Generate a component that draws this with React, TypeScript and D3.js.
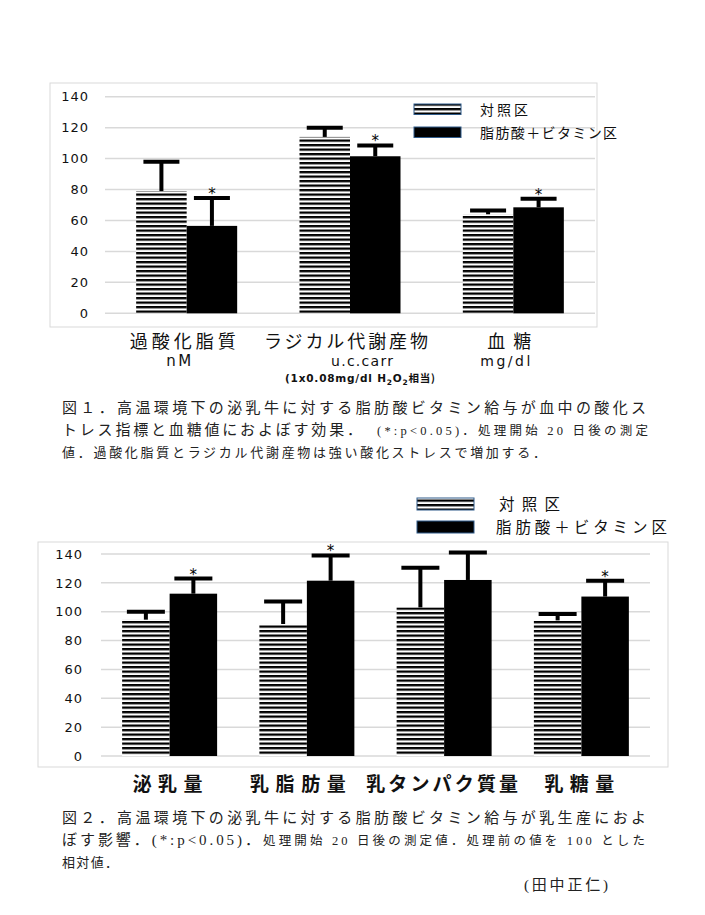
import React from 'react';
import * as d3 from 'd3';

// ---------- data ----------
const seriesNames = ['対照区', '脂肪酸＋ビタミン区'];
const yTicks = [0, 20, 40, 60, 80, 100, 120, 140];

const fig1Categories = ['過酸化脂質', 'ラジカル代謝産物', '血糖'];
const fig1Units = ['nM', 'u.c.carr', 'mg/dl'];
const fig1Control = [79, 114, 64];
const fig1ControlHigh = [98, 120, 66.5];
const fig1Treat = [56.5, 101.5, 68.5];
const fig1TreatHigh = [74.5, 108.5, 74];
const fig1Sig = [true, true, true];

const fig2Categories = ['泌乳量', '乳脂肪量', '乳タンパク質量', '乳糖量'];
const fig2Control = [94.5, 91.5, 103, 94];
const fig2ControlHigh = [100, 107, 130.5, 98.5];
const fig2Treat = [112.5, 121.5, 122, 110.5];
const fig2TreatHigh = [123, 139, 141, 121.5];
const fig2Sig = [true, true, false, true];

const caption1 = [
  '図１．高温環境下の泌乳牛に対する脂肪酸ビタミン給与が血中の酸化ス',
  'トレス指標と血糖値におよぼす効果．',
  '(*:p<0.05)．処理開始 20 日後の測定',
  '値．過酸化脂質とラジカル代謝産物は強い酸化ストレスで増加する．',
];
const caption2 = [
  '図２．高温環境下の泌乳牛に対する脂肪酸ビタミン給与が乳生産におよ',
  'ぼす影響．(*:p<0.05)．',
  '処理開始 20 日後の測定値．処理前の値を 100 とした',
  '相対値．',
];
const author = '(田中正仁)';

const SANS = "'Noto Sans CJK JP', 'DejaVu Sans', sans-serif";
const TICKF = "'DejaVu Sans', Verdana, sans-serif";
const SERIF = "'Liberation Serif', 'Noto Sans CJK JP', serif";

type Cfg = {
  fx: number; fy: number; fw: number; fh: number;
  x0: number; x1: number; yb: number; yt: number;
  outer: number; tickX: number; capW: number;
};

function Panel(props: {
  cfg: Cfg; cats: string[]; ctrl: number[]; ctrlHi: number[];
  trt: number[]; trtHi: number[]; sig: boolean[];
}) {
  const { cfg, cats, ctrl, ctrlHi, trt, trtHi, sig } = props;
  const x = d3.scaleBand<string>().domain(cats).range([cfg.x0, cfg.x1]).padding(0);
  const xs = d3
    .scaleBand<string>()
    .domain(seriesNames)
    .range([0, x.bandwidth()])
    .paddingInner(0)
    .paddingOuter(cfg.outer);
  const y = d3.scaleLinear().domain([0, 140]).range([cfg.yb, cfg.yt]);
  const bw = xs.bandwidth();
  const series = [
    { name: seriesNames[0], vals: ctrl, hi: ctrlHi, fill: 'url(#stripes)', sig: cats.map(() => false) },
    { name: seriesNames[1], vals: trt, hi: trtHi, fill: '#000', sig },
  ];
  return (
    <g>
      <rect x={cfg.fx} y={cfg.fy} width={cfg.fw} height={cfg.fh} fill="#fff" stroke="#d9d9d9" strokeWidth={1} />
      {yTicks.map((t) => (
        <g key={t}>
          <line x1={cfg.x0} x2={cfg.x1} y1={y(t)} y2={y(t)} stroke="#d9d9d9" strokeWidth={1.5} />
          <text
            x={cfg.tickX + 1}
            y={y(t)}
            dy="0.36em"
            textAnchor="end"
            fontFamily={TICKF}
            fontSize={13}
            letterSpacing={1}
            fill="#111"
          >
            {t}
          </text>
        </g>
      ))}
      {series.map((s) =>
        cats.map((c, i) => {
          const bx = (x(c) as number) + (xs(s.name) as number);
          const cx = bx + bw / 2;
          return (
            <g key={s.name + c}>
              <rect x={bx} y={y(s.vals[i])} width={bw} height={y(0) - y(s.vals[i])} fill={s.fill} />
              <line x1={cx} x2={cx} y1={y(s.vals[i])} y2={y(s.hi[i])} stroke="#000" strokeWidth={4} />
              <line
                x1={cx - cfg.capW / 2}
                x2={cx + cfg.capW / 2}
                y1={y(s.hi[i])}
                y2={y(s.hi[i])}
                stroke="#000"
                strokeWidth={4}
              />
              {s.sig[i] && (
                <text x={cx} y={y(s.hi[i]) + 1} textAnchor="middle" fontFamily={TICKF} fontSize={15} fill="#000">
                  *
                </text>
              )}
            </g>
          );
        })
      )}
    </g>
  );
}

function Legend(props: { x: number; y1: number; y2: number; sw: number; sh: number; tx: number[]; tl: number[]; fs: number }) {
  const { x, y1, y2, sw, sh, tx, tl, fs } = props;
  const ys = [y1, y2];
  const fills = ['url(#stripes)', '#000'];
  return (
    <g>
      {seriesNames.map((n, i) => (
        <g key={n}>
          <rect x={x} y={ys[i]} width={sw} height={sh} fill={fills[i]} stroke="#2f5b8a" strokeWidth={1} />
          <text
            x={tx[i]}
            y={ys[i] + sh / 2}
            dy="0.38em"
            fontFamily={SANS}
            fontSize={fs}
            textLength={tl[i]}
            lengthAdjust="spacing"
            fill="#111"
          >
            {n}
          </text>
        </g>
      ))}
    </g>
  );
}

export default function App() {
  const cfg1: Cfg = { fx: 50, fy: 83, fw: 547, fh: 244, x0: 105, x1: 595, yb: 313.3, yt: 96.7, outer: 0.617, tickX: 88, capW: 36 };
  const cfg2: Cfg = { fx: 38, fy: 542, fw: 630, fh: 225, x0: 101, x1: 650, yb: 756, yt: 554, outer: 0.445, tickX: 82, capW: 38 };

  const x1 = d3.scaleBand<string>().domain(fig1Categories).range([cfg1.x0, cfg1.x1]).padding(0);
  const x2 = d3.scaleBand<string>().domain(fig2Categories).range([cfg2.x0, cfg2.x1]).padding(0);
  const cat1Len = [106, 164, 44];
  const unit1Len = [25, 62, 50];
  const unit1Size = [15, 14, 14];
  const cat2Len = [70, 96, 152, 70];

  return (
    <div style={{ position: 'absolute', left: 0, top: 0 }}>
      <svg width={705} height={915} style={{ display: 'block', background: '#fff' }}>
        <defs>
          <pattern id="stripes" patternUnits="userSpaceOnUse" width={8} height={4.5}>
            <rect width={8} height={4.5} fill="#fff" />
            <rect width={8} height={2.3} fill="#000" />
          </pattern>
        </defs>
        <rect width={705} height={915} fill="#fff" />

        {/* Figure 1 */}
        <Panel cfg={cfg1} cats={fig1Categories} ctrl={fig1Control} ctrlHi={fig1ControlHigh} trt={fig1Treat} trtHi={fig1TreatHigh} sig={fig1Sig} />
        <Legend x={414} y1={104} y2={127} sw={47} sh={10.5} tx={[480, 480]} tl={[48, 137]} fs={14} />
        {fig1Categories.map((c, i) => {
          const cx = (x1(c) as number) + x1.bandwidth() / 2;
          return (
            <g key={c}>
              <text x={cx - cat1Len[i] / 2 - 4} y={348} fontFamily={SANS} fontSize={18} textLength={cat1Len[i]} lengthAdjust="spacing" fill="#111">
                {c}
              </text>
              <text x={cx - unit1Len[i] / 2 - 8 + (i === 1 ? 20 : 0)} y={366} fontFamily={TICKF} fontSize={unit1Size[i]} textLength={unit1Len[i]} lengthAdjust="spacing" fill="#111">
                {fig1Units[i]}
              </text>
            </g>
          );
        })}
        <text x={285} y={382} fontFamily={TICKF} fontSize={10.5} fontWeight="bold" textLength={150} lengthAdjust="spacing" fill="#111">
          (1x0.08mg/dl H
          <tspan fontSize={7.5} dy={2.5}>2</tspan>
          <tspan dy={-2.5}>O</tspan>
          <tspan fontSize={7.5} dy={2.5}>2</tspan>
          <tspan dy={-2.5} fontFamily={SANS}>相当)</tspan>
        </text>

        <text x={62} y={413} fontFamily={SERIF} fontSize={15} textLength={584} lengthAdjust="spacing" fill="#222">{caption1[0]}</text>
        <text x={62} y={435} fontFamily={SERIF} fontSize={15} textLength={300} lengthAdjust="spacing" fill="#222">{caption1[1]}</text>
        <text x={377} y={435} fontFamily={SERIF} fontSize={12.5} textLength={271} lengthAdjust="spacing" fill="#222">{caption1[2]}</text>
        <text x={62} y={457} fontFamily={SERIF} fontSize={13} textLength={484} lengthAdjust="spacing" fill="#222">{caption1[3]}</text>

        {/* Figure 2 */}
        <Legend x={417} y1={498} y2={521} sw={57} sh={12} tx={[499, 496]} tl={[61, 171]} fs={15.5} />
        <Panel cfg={cfg2} cats={fig2Categories} ctrl={fig2Control} ctrlHi={fig2ControlHigh} trt={fig2Treat} trtHi={fig2TreatHigh} sig={fig2Sig} />
        {fig2Categories.map((c, i) => {
          const cx = (x2(c) as number) + x2.bandwidth() / 2;
          return (
            <text key={c} x={cx - cat2Len[i] / 2 - (i === 1 ? 9 : 2)} y={791} fontFamily={SANS} fontSize={19} fontWeight="bold" textLength={cat2Len[i]} lengthAdjust="spacing" fill="#111">
              {c}
            </text>
          );
        })}

        <text x={62} y={823} fontFamily={SERIF} fontSize={15} textLength={584} lengthAdjust="spacing" fill="#222">{caption2[0]}</text>
        <text x={62} y={845} fontFamily={SERIF} fontSize={15} textLength={198} lengthAdjust="spacing" fill="#222">{caption2[1]}</text>
        <text x={263} y={845} fontFamily={SERIF} fontSize={12.5} textLength={382} lengthAdjust="spacing" fill="#222">{caption2[2]}</text>
        <text x={62} y={867} fontFamily={SERIF} fontSize={13} textLength={56} lengthAdjust="spacing" fill="#222">{caption2[3]}</text>
        <text x={524} y={890} fontFamily={SERIF} fontSize={15} textLength={84} lengthAdjust="spacing" fill="#222">{author}</text>
      </svg>
    </div>
  );
}
